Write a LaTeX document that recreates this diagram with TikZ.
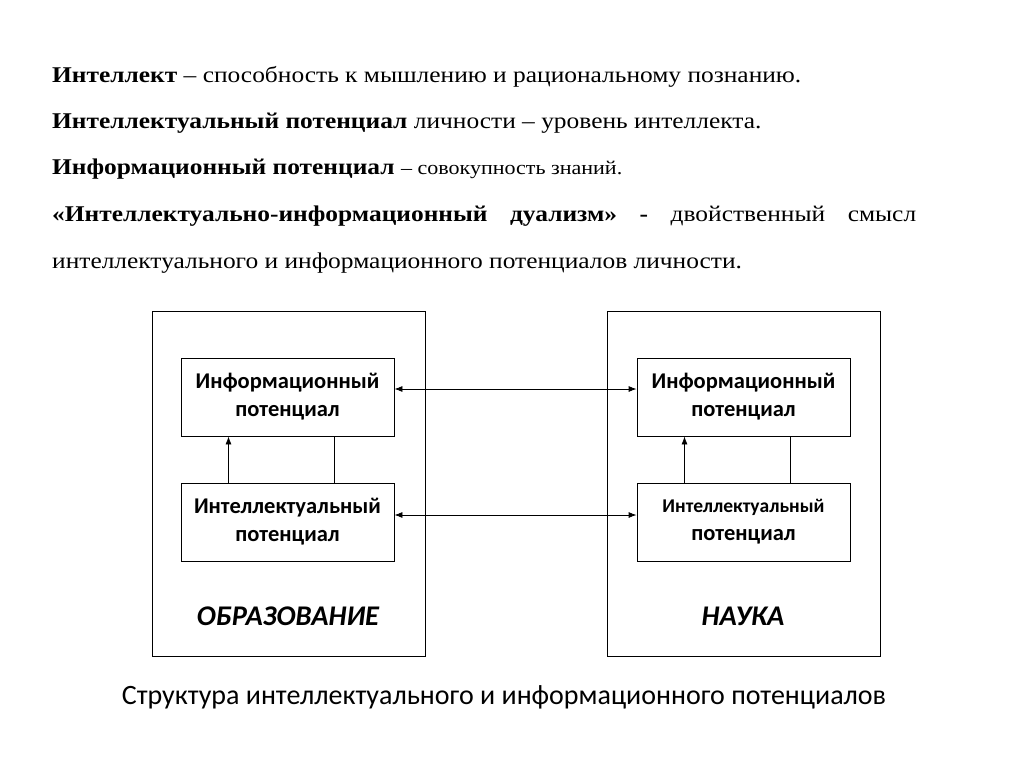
\documentclass[tikz,border=0pt]{standalone}
\usepackage{fontspec}
\setmainfont[FakeStretch=1.13]{Liberation Serif}
\newfontfamily\boxfont{Carlito}
\usepackage{tikz}
\usetikzlibrary{%
	arrows.meta,
	positioning,% wg. " of "
	calc
}
\tikzstyle{frame} = [draw, line width = 0.8pt, minimum width = 273pt, minimum height = 345pt]
\tikzstyle{block} = [draw, line width = 0.8pt, minimum width = 213pt, minimum height = 78pt, align = center, font = \boxfont\bfseries\fontsize{22.5}{28}\selectfont]
\tikzstyle{line} = [draw, line width = 0.8pt, -{Latex[length=8pt,width=6pt]}]
\tikzstyle{both} = [draw, line width = 0.8pt, {Latex[length=8pt,width=6pt]}-{Latex[length=8pt,width=6pt]}]
\tikzstyle{defn} = [anchor = base west, inner sep = 0pt, font = \fontsize{22.5}{27}\selectfont]
\tikzstyle{field} = [font = \boxfont\bfseries\itshape\fontsize{28.5}{32}\selectfont]

\begin{document}
\begin{tikzpicture}[x=1pt,y=-1pt]
		
		\useasboundingbox (0,0) rectangle (1024,768);
		
		% First we write the definitions
		\node[defn] (t1) at (52,82) {\textbf{Интеллект} – способность к мышлению и рациональному познанию.};
		\node[defn] (t2) at (52,128) {\textbf{Интеллектуальный потенциал} личности – уровень интеллекта.};
		\node[defn] (t3) at (52,174) {\textbf{Информационный потенциал} {\fontsize{19.5}{22}\selectfont – совокупность знаний.}};
		\node[defn] (t4) at (52,221) {\makebox[864pt][s]{\textbf{«Интеллектуально-информационный дуализм» -} двойственный смысл}};
		\node[defn] (t5) at (52,268) {интеллектуального и информационного потенциалов личности.};
		
		% Then the two frames
		\foreach \pos/\name in {{(288.5,483.5)/ledu}, {(743.5,483.5)/rsci}}
		\node[frame] (\name) at \pos {};
		
		% Blocks inside the frames
		\foreach \pos/\name in {{(287.5,397)/linf}, {(743.5,397)/rinf}}
		\node[block] (\name) at \pos {Информационный\\потенциал};
		\node[block] (lint) at (287.5,522) {Интеллектуальный\\потенциал};
		\node[block] (rint) at (743.5,522) {\raisebox{3pt}{\fontsize{19.5}{24}\selectfont Интеллектуальный}\\\raisebox{3pt}{потенциал}};
		
		% Labels of the frames
		\node[field] (ledulabel) at (288,616) {ОБРАЗОВАНИЕ};
		\node[field] (rscilabel) at (743,616) {НАУКА};
		
		% Connect blocks inside the frames
		\foreach \source/ \dest in {lint/linf, rint/rinf}
		{
		\path[line] ([xshift=-59pt]\source.north) to ([xshift=-59pt]\dest.south);
		\path[draw, line width = 0.8pt] ([xshift=46.5pt]\source.north) to ([xshift=46.5pt]\dest.south);
		}
		
		% Connect the two frames
		\path[both] ([yshift=8pt]linf.east) to ([yshift=8pt]rinf.west);
		\path[both] ([yshift=7pt]lint.east) to ([yshift=7pt]rint.west);
		
		% Caption
		\node[font = \boxfont\fontsize{28}{32}\selectfont] (caption) at (504,697) {Структура интеллектуального и информационного потенциалов};
		
		\end{tikzpicture}
\end{document}
